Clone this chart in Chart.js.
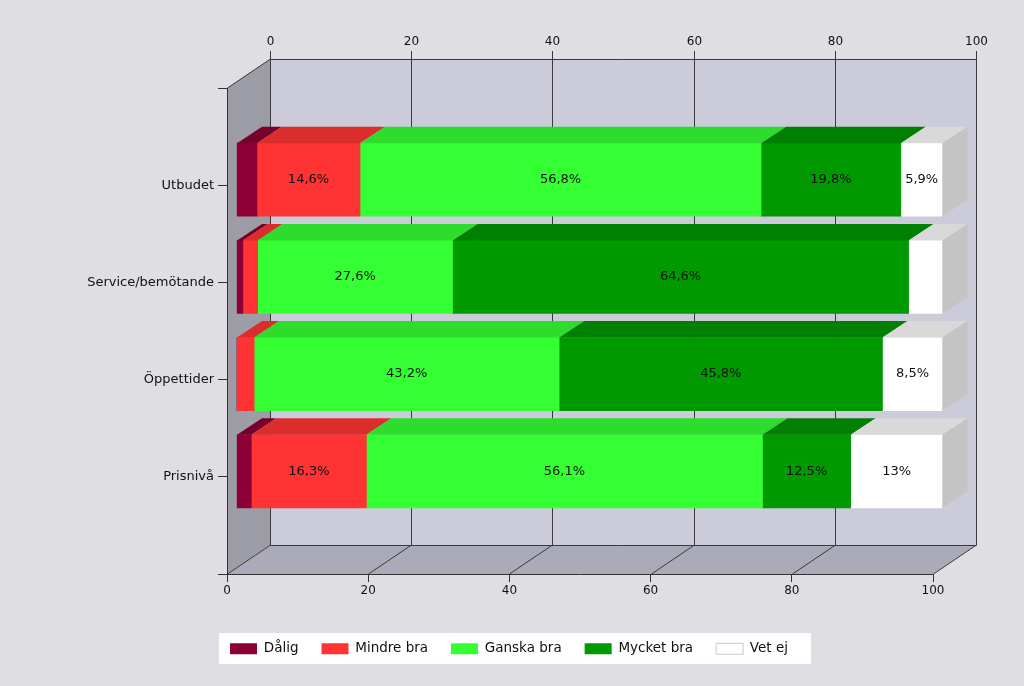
<!DOCTYPE html>
<html>
<head>
<meta charset="utf-8">
<script src="https://cdn.jsdelivr.net/npm/chart.js@4/dist/chart.umd.min.js"></script>
<style>
html,body{margin:0;padding:0;background:#dfdfe3;overflow:hidden;}
canvas{display:block;}
</style>
</head>
<body>
<canvas id="c" width="1024" height="686"></canvas>
<script>
// ---- data ----
const categories = ['Utbudet', 'Service/bemötande', 'Öppettider', 'Prisnivå'];
const seriesNames = ['Dålig', 'Mindre bra', 'Ganska bra', 'Mycket bra', 'Vet ej'];
const dalig     = [2.9, 0.9, 0, 2.1];
const mindreBra = [14.6, 2.1, 2.5, 16.3];
const ganskaBra = [56.8, 27.6, 43.2, 56.1];
const mycketBra = [19.8, 64.6, 45.8, 12.5];
const vetEj     = [5.9, 4.8, 8.5, 13];
const xTicks = [0, 20, 40, 60, 80, 100];

// ---- style ----
const frontColors = ['#8c0035', '#ff3333', '#33ff33', '#009900', '#ffffff'];
const topColors   = ['#78002d', '#dc2d2d', '#2edc2e', '#008000', '#d9d9d9'];
const sideColors  = ['#6a0028', '#c02828', '#28c028', '#007000', '#c4c4c4'];
const DX = 43, DY = -29;        // depth of the 3D box
const BFX = 9.5, BFY = -5.5;    // bar front face offset
const BDX = 25, BDY = -16.5;    // bar depth
const FONT = '"DejaVu Sans", Verdana, sans-serif';

Chart.defaults.font.family = FONT;
Chart.defaults.color = '#111';

function poly(ctx, pts, fill) {
  ctx.beginPath();
  ctx.moveTo(pts[0][0], pts[0][1]);
  for (let i = 1; i < pts.length; i++) ctx.lineTo(pts[i][0], pts[i][1]);
  ctx.closePath();
  ctx.fillStyle = fill;
  ctx.fill();
}
function line(ctx, x1, y1, x2, y2) {
  ctx.beginPath();
  ctx.moveTo(x1, y1);
  ctx.lineTo(x2, y2);
  ctx.stroke();
}
const fmt = v => String(v).replace('.', ',') + '%';

const seriesValues = [dalig, mindreBra, ganskaBra, mycketBra, vetEj];

const box3d = {
  id: 'box3d',
  beforeDraw(chart) {
    const {ctx, chartArea: a, scales: {x}} = chart;
    const L = a.left, R = a.right, T = a.top, B = a.bottom;
    ctx.save();
    ctx.fillStyle = '#dfdfe3';
    ctx.fillRect(0, 0, chart.width, chart.height);
    poly(ctx, [[L + DX, T + DY], [R + DX, T + DY], [R + DX, B + DY], [L + DX, B + DY]], '#cbcbd9');
    poly(ctx, [[L, T], [L + DX, T + DY], [L + DX, B + DY], [L, B]], '#9d9da8');
    poly(ctx, [[L, B], [R, B], [R + DX, B + DY], [L + DX, B + DY]], '#aaaab8');
    ctx.strokeStyle = '#3a3a3a';
    ctx.lineWidth = 1;
    xTicks.forEach(v => {
      const px = Math.round(x.getPixelForValue(v)) + 0.5;
      line(ctx, px + DX, T + DY, px + DX, B + DY);
      line(ctx, px, B, px + DX, B + DY);
    });
    line(ctx, L + DX, T + DY + 0.5, R + DX + 0.5, T + DY + 0.5);
    line(ctx, L + DX, B + DY + 0.5, R + DX + 0.5, B + DY + 0.5);
    line(ctx, L + 0.5, T, L + DX + 0.5, T + DY);
    // top (back) axis
    ctx.fillStyle = '#111';
    ctx.font = '12px ' + FONT;
    ctx.textAlign = 'center';
    ctx.textBaseline = 'middle';
    xTicks.forEach(v => {
      const px = Math.round(x.getPixelForValue(v)) + 0.5 + DX;
      line(ctx, px, T + DY - 8, px, T + DY);
      ctx.fillText(String(v), px, T + DY - 17);
    });
    // legend background
    const lg = chart.legend;
    if (lg && lg.legendHitBoxes && lg.legendHitBoxes.length) {
      const hb = lg.legendHitBoxes;
      const l = hb[0].left - 11;
      const r = hb[hb.length - 1].left + hb[hb.length - 1].width + 23;
      const t = hb[0].top - 9;
      ctx.fillStyle = '#ffffff';
      ctx.fillRect(l, t, r - l, 31);
    }
    ctx.restore();
  },
  beforeDatasetsDraw(chart) {
    chart.ctx.save();
    chart.ctx.translate(BFX, BFY);
  },
  afterDatasetsDraw(chart) {
    const ctx = chart.ctx;
    const metas = chart.data.datasets.map((d, i) => chart.getDatasetMeta(i));
    // top faces
    metas.forEach((meta, di) => {
      meta.data.forEach((el, i) => {
        const v = seriesValues[di][i];
        if (!v) return;
        const x0 = Math.min(el.base, el.x), x1 = Math.max(el.base, el.x);
        const top = el.y - el.height / 2;
        poly(ctx, [[x0, top], [x1, top], [x1 + BDX, top + BDY], [x0 + BDX, top + BDY]], topColors[di]);
      });
    });
    // right side face of the last visible segment
    categories.forEach((c, i) => {
      let last = -1;
      seriesValues.forEach((s, di) => { if (s[i] > 0) last = di; });
      if (last < 0) return;
      const el = metas[last].data[i];
      const x1 = Math.max(el.base, el.x);
      const top = el.y - el.height / 2, bot = el.y + el.height / 2;
      poly(ctx, [[x1, top], [x1 + BDX, top + BDY], [x1 + BDX, bot + BDY], [x1, bot]], sideColors[last]);
    });
    // value labels
    ctx.fillStyle = '#111';
    ctx.font = '13px ' + FONT;
    ctx.textAlign = 'center';
    ctx.textBaseline = 'middle';
    metas.forEach((meta, di) => {
      meta.data.forEach((el, i) => {
        const v = seriesValues[di][i];
        if (v < 5) return;
        ctx.fillText(fmt(v), (el.base + el.x) / 2, el.y);
      });
    });
    ctx.restore();
  }
};

new Chart(document.getElementById('c'), {
  type: 'bar',
  data: {
    datasets: seriesNames.map((name, di) => ({
      label: name,
      data: seriesValues[di].map((v, i) => ({x: v, y: i})),
      backgroundColor: frontColors[di],
      borderWidth: 0,
      barThickness: 73
    }))
  },
  options: {
    indexAxis: 'y',
    responsive: false,
    animation: false,
    events: [],
    layout: {padding: {left: 85, right: 91, top: 88, bottom: 20.5}},
    scales: {
      x: {
        type: 'linear',
        stacked: true,
        min: 0, max: 100,
        afterBuildTicks: s => { s.ticks = xTicks.map(v => ({value: v})); },
        afterFit: s => { s.height = 45; },
        grid: {drawOnChartArea: false, drawTicks: true, tickLength: 8, color: '#333'},
        border: {display: true, color: '#333'},
        ticks: {font: {size: 12}, color: '#111', padding: 2}
      },
      y: {
        type: 'linear',
        stacked: true,
        reverse: true,
        offset: false,
        min: -1, max: 4,
        afterBuildTicks: s => { s.ticks = [-1, 0, 1, 2, 3, 4].map(v => ({value: v})); },
        afterFit: s => { s.width = 142; },
        grid: {offset: false, drawOnChartArea: false, drawTicks: true, tickLength: 9, color: '#333'},
        border: {display: true, color: '#333'},
        ticks: {
          font: {size: 13}, color: '#111', padding: 4,
          callback: v => categories[v] !== undefined ? categories[v] : ''
        }
      }
    },
    plugins: {
      tooltip: {enabled: false},
      legend: {
        position: 'bottom',
        labels: {
          boxWidth: 27, boxHeight: 11, padding: 23,
          font: {size: 13.5}, color: '#111',
          generateLabels(chart) {
            const items = Chart.defaults.plugins.legend.labels.generateLabels(chart);
            items.forEach((it, i) => {
              it.lineWidth = 0;
              it.strokeStyle = 'rgba(0,0,0,0)';
              if (i === 4) { it.lineWidth = 1; it.strokeStyle = '#c8c8c8'; }
            });
            return items;
          }
        }
      }
    }
  },
  plugins: [box3d]
});
</script>
</body>
</html>
